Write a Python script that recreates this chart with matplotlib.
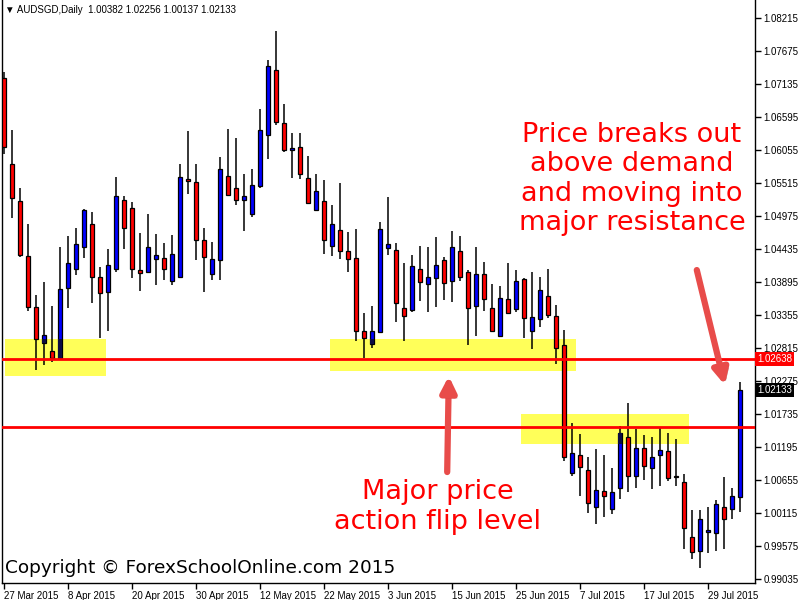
import matplotlib
matplotlib.use('Agg')
import matplotlib.pyplot as plt
import matplotlib.patheffects as pe
import matplotlib.transforms as mtransforms
import pandas as pd

plt.rcParams['font.family'] = ['DejaVu Sans']

# daily AUDSGD candles, weekdays only, 27 Mar 2015 .. 4 Aug 2015
dates = pd.bdate_range('2015-03-27', periods=93)

opens = [1.07228, 1.05821, 1.05216, 1.04315, 1.03481, 1.02902, 1.02761, 1.02646, 1.03802, 1.04113,
         1.04473, 1.04839, 1.03972, 1.03726, 1.04113, 1.05232, 1.05101, 1.04086, 1.04054, 1.04276,
         1.04283, 1.03906, 1.03972, 1.05576, 1.05526, 1.04577, 1.04021, 1.04250, 1.05625, 1.05428,
         1.05232, 1.05003, 1.05461, 1.06296, 1.07359, 1.06492, 1.06050, 1.06099, 1.05592, 1.05068,
         1.05216, 1.04479, 1.04741, 1.04397, 1.04283, 1.03088, 1.02875, 1.03072, 1.04446, 1.04414,
         1.03465, 1.03432, 1.04103, 1.03857, 1.03956, 1.04250, 1.03906, 1.04397, 1.04054, 1.03497,
         1.04021, 1.03465, 1.03006, 1.03612, 1.03448, 1.03939, 1.03088, 1.03285, 1.03661, 1.03334,
         1.02859, 1.00765, 1.01059, 1.00814, 1.00208, 1.00470, 1.00175, 1.00519, 1.01354, 1.00715,
         1.01174, 1.00846, 1.01059, 1.01125, 1.00715, 1.00617, 0.99717, 0.99488, 0.99799, 0.99783,
         1.00208, 1.00175, 1.00382]
highs = [1.07326, 1.06382, 1.05428, 1.04844, 1.03677, 1.03895, 1.03502, 1.04468, 1.04648, 1.04774,
         1.05090, 1.05036, 1.04136, 1.04430, 1.05613, 1.05302, 1.05199, 1.04697, 1.05008, 1.04680,
         1.04533, 1.04664, 1.05826, 1.06366, 1.05826, 1.04774, 1.04545, 1.05940, 1.06399, 1.06251,
         1.05662, 1.05744, 1.06726, 1.07523, 1.08002, 1.06808, 1.06333, 1.06333, 1.05957, 1.05662,
         1.05564, 1.05155, 1.05515, 1.04713, 1.04762, 1.03388, 1.03502, 1.04877, 1.05286, 1.04528,
         1.04201, 1.04332, 1.04479, 1.04463, 1.04626, 1.04299, 1.04725, 1.04643, 1.04086, 1.04463,
         1.04217, 1.03857, 1.03825, 1.04201, 1.04086, 1.03956, 1.04054, 1.03972, 1.04103, 1.03514,
         1.03105, 1.01583, 1.01403, 1.01026, 1.01157, 1.01059, 1.00846, 1.01534, 1.01910, 1.01485,
         1.01386, 1.01354, 1.01517, 1.01419, 1.01321, 1.00748, 1.00159, 1.00159, 1.00208, 1.00323,
         1.00699, 1.00519, 1.02256]
lows = [1.05985, 1.04947, 1.04309, 1.03425, 1.02455, 1.02542, 1.02591, 1.02646, 1.03474, 1.04005,
        1.04293, 1.03546, 1.02974, 1.03098, 1.04064, 1.04440, 1.03965, 1.03753, 1.04054, 1.03851,
        1.03933, 1.03851, 1.03972, 1.05340, 1.04260, 1.03726, 1.03933, 1.03923, 1.05314, 1.05150,
        1.04725, 1.04954, 1.05428, 1.05916, 1.06459, 1.06017, 1.05592, 1.05576, 1.05183, 1.05068,
        1.04348, 1.04315, 1.04266, 1.04054, 1.02925, 1.02646, 1.02810, 1.03072, 1.04332, 1.03235,
        1.02925, 1.03399, 1.03579, 1.03399, 1.03481, 1.03595, 1.03563, 1.03906, 1.02859, 1.03006,
        1.03415, 1.03072, 1.03006, 1.03383, 1.03399, 1.02983, 1.02803, 1.03154, 1.03301, 1.02558,
        1.00961, 1.00715, 1.00388, 1.00110, 0.99930, 1.00044, 1.00094, 1.00339, 1.00454, 1.00519,
        1.00650, 1.00503, 1.00552, 1.00634, 1.00552, 0.99521, 0.99357, 0.99210, 0.99455, 0.99488,
        0.99521, 1.00012, 1.00137]
closes = [1.06099, 1.05265, 1.04332, 1.03481, 1.02957, 1.03023, 1.02646, 1.03775, 1.04201, 1.04512,
          1.05068, 1.03972, 1.03710, 1.04168, 1.05297, 1.04774, 1.04103, 1.04037, 1.04463, 1.04332,
          1.04103, 1.04348, 1.05613, 1.05543, 1.04577, 1.04299, 1.04266, 1.05739, 1.05314, 1.05232,
          1.05297, 1.05477, 1.06377, 1.07425, 1.06508, 1.06050, 1.06083, 1.05657, 1.05183, 1.05379,
          1.04577, 1.04839, 1.04397, 1.04266, 1.03088, 1.02974, 1.03088, 1.04757, 1.04512, 1.03546,
          1.03334, 1.04152, 1.03890, 1.03972, 1.04168, 1.03874, 1.04463, 1.03972, 1.03465, 1.04021,
          1.03612, 1.03088, 1.03628, 1.03383, 1.03906, 1.03301, 1.03317, 1.03759, 1.03350, 1.02810,
          1.01026, 1.01092, 1.00863, 1.00274, 1.00486, 1.00388, 1.00454, 1.01419, 1.00715, 1.01174,
          1.00879, 1.01026, 1.01141, 1.00683, 1.00699, 0.99865, 0.99472, 1.00012, 0.99832, 1.00257,
          1.00012, 1.00388, 1.02133]

# horizontal levels and highlighted zones (bar index from/to, price low/high)
resistance = 1.02638
flip_level = 1.01530
zones = [(0.125, 12.75, 1.02362, 1.02962),
         (40.75, 71.5, 1.02438, 1.02962),
         (64.6, 85.6, 1.01249, 1.01735)]

y_ticks = [0.99035, 0.99575, 1.00115, 1.00655, 1.01195, 1.01735, 1.02275, 1.02815, 1.03355,
           1.03895, 1.04435, 1.04975, 1.05515, 1.06055, 1.06595, 1.07135, 1.07675, 1.08215]
x_tick_idx = list(range(0, 93, 8))

BULL = '#0000ff'
BEAR = '#ff0000'
ZONE = '#ffff59'
ARROW = '#e84c4a'
SMALL = ['Liberation Sans', 'DejaVu Sans']

fig = plt.figure(figsize=(8, 6), dpi=100)
ax = fig.add_axes([2/800, 17/600, 753/800, 583/600])

for x0, x1, lo, hi in zones:
    ax.add_patch(plt.Rectangle((x0, lo), x1 - x0, hi - lo, facecolor=ZONE, edgecolor='none', zorder=1))

w = 0.6
for i in range(len(opens)):
    o, h, l, c = opens[i], highs[i], lows[i], closes[i]
    ax.vlines(i, l, h, color='black', lw=1.1, zorder=2)
    bot = min(o, c)
    ht = max(abs(c - o), 0.00012)
    col = BULL if c >= o else BEAR
    ax.bar(i, ht, bottom=bot, width=w, color=col, edgecolor='black', lw=0.9, zorder=3)
    # yellow multiplies the blue bodies into navy where they overlap
    if c >= o:
        for x0, x1, lo, hi in zones:
            if x0 <= i <= x1:
                a, b = max(bot, lo), min(bot + ht, hi)
                if b > a:
                    ax.bar(i, b - a, bottom=a, width=w - 0.1, color='#0c0c44', lw=0, zorder=3.5)

ax.axhline(resistance, color='#ff0000', lw=2, zorder=4)
ax.axhline(flip_level, color='#ff0000', lw=2, zorder=4)

ax.set_xlim(-0.25, 93.875)
ax.set_ylim(0.98970, 1.08510)

ax.yaxis.tick_right()
ax.set_yticks(y_ticks)
ax.set_yticklabels(['%.5f' % v for v in y_ticks], family=SMALL)
ax.set_xticks(x_tick_idx)
ax.set_xticklabels([f"{dates[i].day} {dates[i].strftime('%b %Y')}" for i in x_tick_idx], family=SMALL)
for lab in ax.get_xticklabels():
    lab.set_horizontalalignment('left')
ax.tick_params(axis='both', direction='out', length=4, width=1, labelsize=7, pad=2)
ax.spines['top'].set_visible(False)
for s in ['left', 'right', 'bottom']:
    ax.spines[s].set_linewidth(1)

# price tags on the right scale
trans = mtransforms.blended_transform_factory(ax.transAxes, ax.transData)
ax.text(1.003, resistance, '%.5f' % resistance, transform=trans, color='white', fontsize=7,
        family=SMALL, va='center', ha='left', zorder=10, clip_on=False,
        bbox=dict(boxstyle='square,pad=0.2', fc='#ff0000', ec='none'))
ax.text(1.003, closes[-1], '%.5f' % closes[-1], transform=trans, color='white', fontsize=7,
        family=SMALL, va='center', ha='left', zorder=10, clip_on=False,
        bbox=dict(boxstyle='square,pad=0.2', fc='black', ec='none'))

ax.text(0.004, 0.983, '▼ AUDSGD,Daily  %.5f %.5f %.5f %.5f' % (opens[-1], highs[-1], lows[-1], closes[-1]),
        transform=ax.transAxes, fontsize=7, family=SMALL, va='center', ha='left')

shadow = [pe.SimplePatchShadow(offset=(2, -2), alpha=0.35), pe.Normal()]
ax.annotate('', xy=(55.6, 1.02357), xytext=(55.4, 1.00786),
            arrowprops=dict(arrowstyle='-|>,head_length=0.9,head_width=0.45', lw=4.5, color=ARROW,
                            shrinkA=0, shrinkB=0, path_effects=shadow), zorder=6)
ax.annotate('', xy=(90.1, 1.02210), xytext=(86.6, 1.04091),
            arrowprops=dict(arrowstyle='-|>,head_length=0.9,head_width=0.45', lw=4.5, color=ARROW,
                            shrinkA=0, shrinkB=0, path_effects=shadow), zorder=6)

fig.text(632/800, 1 - 179/600, 'Price breaks out\nabove demand\nand moving into\nmajor resistance',
         ha='center', va='center', color='#ff0000', fontsize=19.5, linespacing=1.18)
fig.text(438/800, 1 - 507/600, 'Major price\naction flip level',
         ha='center', va='center', color='#ff0000', fontsize=19.5, linespacing=1.18)
fig.text(5/800, 1 - 568/600, 'Copyright © ForexSchoolOnline.com 2015',
         ha='left', va='center', color='black', fontsize=13.3)

fig.savefig('out.png', dpi=100)
